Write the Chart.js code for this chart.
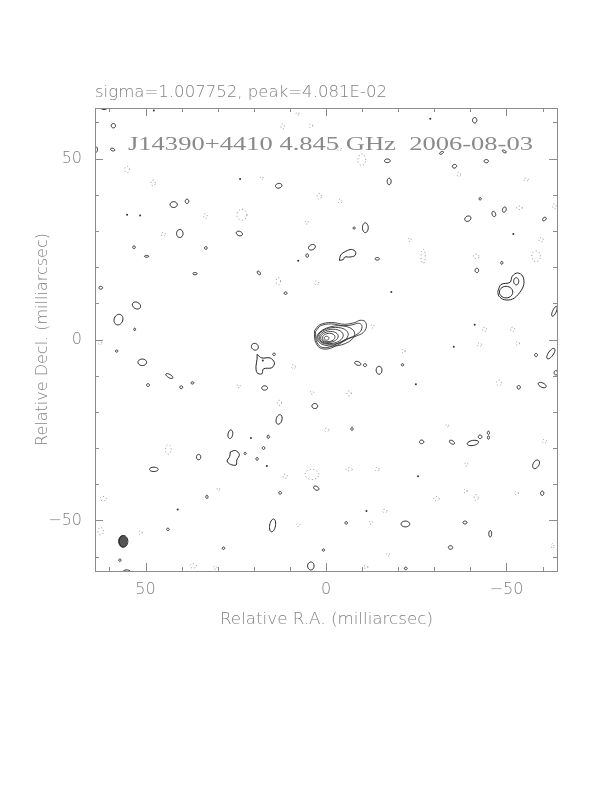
<!DOCTYPE html>
<html lang="en">
<head>
  <meta charset="UTF-8">
  <title>J14390+4410 4.845 GHz 2006-08-03</title>
  <script src="https://cdn.jsdelivr.net/npm/chart.js"></script>
  <style>
    html, body { margin: 0; padding: 0; background: #fff; }
    canvas { display: block; }
  </style>
</head>
<body>
  <canvas id="map" width="612" height="792"></canvas>

  <script>
    // axis limits (milliarcsec)
    var raMin = -64, raMax = 64;
    var decMin = -64, decMax = 64;
    var tickValues = [-60, -50, -40, -30, -20, -10, 0, 10, 20, 30, 40, 50, 60];
    var labeledTicks = [-50, 0, 50];

    var headerText = 'sigma=1.007752, peak=4.081E-02';
    var titleText = 'J14390+4410 4.845 GHz  2006-08-03';
    var xTitle = 'Relative R.A. (milliarcsec)';
    var yTitle = 'Relative Decl. (milliarcsec)';

    // positive contours: [ra, dec, semi-x, semi-y, tilt deg]
    var posBlobs = [
      [61.5, 64.5, 1.2, 0.9, 0], [58.9, 59.1, 0.6, 0.6, 30], [63.8, 52.5, 0.5, 0.8, 0],
      [59.1, 52.5, 0.6, 0.35, -20], [-17.0, 49.4, 0.8, 0.5, 0], [-32.0, 51.6, 0.6, 0.3, 30],
      [-49.4, 52.0, 0.6, 0.3, -30], [-44.4, 49.3, 0.6, 0.45, 0], [-35.6, 47.9, 0.6, 0.5, 20],
      [-41.2, 60.6, 0.6, 0.75, 0], [-17.5, 43.7, 0.55, 0.9, 0], [13.1, 42.5, 0.9, 0.65, 10],
      [42.2, 37.3, 1.0, 0.8, 0], [38.5, 38.2, 0.5, 0.6, 0], [40.5, 29.3, 0.9, 1.1, 0],
      [24.0, 29.3, 0.9, 0.6, -20], [-10.9, 30.9, 0.8, 1.35, 0], [-7.8, 30.8, 0.3, 0.3, 0],
      [53.2, 25.5, 0.35, 0.4, 0], [49.7, 23.0, 0.6, 0.25, 0], [33.3, 25.3, 0.4, 0.35, 0],
      [3.9, 25.5, 1.0, 0.7, 25], [5.2, 23.2, 0.35, 0.5, 0], [-14.2, 22.3, 0.6, 0.35, 0],
      [-39.3, 33.4, 0.9, 0.7, 30], [-46.5, 34.7, 0.5, 0.75, 20], [-49.4, 35.9, 0.5, 0.75, -20],
      [-42.7, 38.9, 0.3, 0.35, 0], [-60.5, 33.3, 0.6, 0.4, 40], [-48.7, 21.2, 0.3, 0.4, 0],
      [-41.8, 19.1, 0.5, 0.6, 0], [-63.3, 7.8, 1.5, 0.5, 65], [62.4, 14.3, 0.5, 0.4, 0],
      [52.5, 9.4, 1.2, 0.9, -30], [57.5, 5.5, 1.2, 1.5, -20], [53.0, 2.8, 0.25, 0.35, 0],
      [36.3, 18.2, 0.6, 0.3, 0], [18.6, 18.4, 0.6, 0.35, -50], [11.2, 12.8, 0.4, 0.35, 0],
      [58.0, -3.2, 0.35, 0.3, 0], [50.9, -6.3, 1.2, 0.9, 0], [43.4, -10.1, 1.1, 0.45, -30],
      [49.3, -12.6, 0.4, 0.4, 0], [40.1, -13.2, 0.4, 0.4, 0], [37.0, -12.0, 0.4, 0.3, 0],
      [19.7, -2.0, 1.0, 0.9, -40], [14.4, -4.1, 0.35, 0.35, 0], [-8.8, -6.6, 0.9, 0.5, -20],
      [-10.8, -7.1, 0.45, 0.4, 0], [-14.7, -8.5, 0.8, 1.1, 0], [-21.2, -7.0, 0.35, 0.3, 0],
      [17.0, -13.4, 0.8, 0.6, 0], [3.1, -18.4, 0.8, 0.7, 0], [13.0, -22.1, 1.35, 0.8, 75],
      [26.5, -26.2, 1.2, 0.65, 80], [16.0, -26.9, 0.3, 0.45, 0], [17.3, -30.0, 0.35, 0.4, 0],
      [19.1, -33.0, 0.35, 0.35, 0], [22.4, -31.5, 0.3, 0.3, 0], [35.3, -32.5, 0.6, 0.75, 0],
      [47.7, -35.9, 1.2, 0.6, 0], [-7.2, -24.7, 0.3, 0.45, 0], [-26.5, -28.3, 0.6, 0.5, 0],
      [-34.9, -28.4, 0.8, 0.45, -30], [-40.7, -28.6, 1.6, 0.7, 10], [-42.7, -26.9, 0.5, 0.5, 0],
      [-45.0, -25.8, 0.3, 0.45, 0], [-45.0, -27.1, 0.3, 0.45, 0], [-58.2, -34.5, 1.3, 0.8, 60],
      [-59.9, -42.5, 0.45, 0.6, 0], [-58.2, -4.3, 0.4, 0.45, 0], [-62.3, -3.9, 1.7, 0.7, 55],
      [-63.7, -9.2, 0.5, 0.6, 0], [-59.9, -12.6, 1.2, 0.6, -25], [-53.4, -13.2, 0.45, 0.5, 0],
      [-45.5, -53.7, 0.4, 0.9, 0], [-38.5, -50.6, 0.55, 0.4, 0], [-34.5, -57.5, 0.6, 0.5, 0],
      [-22.0, -51.0, 1.2, 0.8, 0], [-5.6, -50.7, 0.35, 0.35, 0], [14.8, -51.4, 0.8, 1.8, -10],
      [2.7, -41.1, 0.8, 0.5, -30], [12.7, -42.4, 0.4, 0.35, 0], [33.0, -43.5, 0.3, 0.45, 0],
      [43.8, -52.5, 0.35, 0.35, 0], [28.4, -57.7, 0.35, 0.35, 0], [0.7, -58.2, 0.35, 0.3, 0],
      [4.2, -62.6, 0.9, 1.1, 0], [-22.1, -63.3, 0.4, 0.35, 0], [55.2, -64.3, 1.1, 0.6, 0],
      [57.1, -61.0, 0.35, 0.3, 0], [56.1, -55.8, 1.2, 1.6, 0]
    ];

    // irregular positive contours, [ra, dec] vertices
    var posShapes = [
      [[-3.7, 21.9], [-4.1, 23.4], [-5.5, 24.4], [-7.1, 24.9], [-8.2, 24.2], [-8.0, 23.2],
       [-6.6, 22.8], [-5.2, 22.8], [-4.8, 22.1]],
      [[-47.6, 13.3], [-48.5, 15.2], [-51.0, 15.8], [-51.6, 17.5], [-53.1, 18.4], [-54.5, 17.5],
       [-54.8, 15.2], [-53.6, 12.9], [-51.7, 11.2], [-49.4, 11.0], [-47.9, 12.0]],
      [[19.1, -4.1], [17.8, -5.1], [15.5, -5.1], [14.3, -6.4], [15.0, -7.8], [17.3, -8.1],
       [17.8, -9.5], [19.1, -9.2], [19.4, -7.4], [19.1, -5.5]],
      [[26.5, -31.1], [25.1, -30.7], [24.0, -31.8], [24.7, -33.3], [24.9, -34.7], [26.5, -34.5],
       [27.4, -33.6], [26.7, -32.4]]
    ];
    var innerBlobs = [[-49.9, 13.1, 1.85, 1.6, 0], [-52.7, 16.1, 0.7, 1.0, 0]];

    // the central source: two outer tadpole contours, then the inner levels
    var sourceOuter = [
      [3.2, 2.4], [1.7, 4.1], [-1.6, 4.7], [-5.2, 4.2], [-8.0, 4.7], [-9.4, 5.3], [-10.8, 5.0],
      [-11.2, 3.5], [-10.3, 1.9], [-8.5, 1.0], [-6.2, 0.2], [-3.4, -1.4], [-0.6, -2.6],
      [1.7, -2.3], [3.0, -0.4]
    ];
    var sourceSecond = [
      [2.9, 2.2], [1.5, 3.8], [-1.5, 4.3], [-4.9, 3.8], [-7.5, 4.1], [-8.8, 4.5], [-9.8, 4.1],
      [-9.9, 2.9], [-9.0, 1.7], [-7.4, 0.8], [-5.4, 0.0], [-3.0, -1.2], [-0.5, -2.2],
      [1.5, -2.0], [2.7, -0.3]
    ];
    var sourceInner = [
      [-2.7, 1.0, 5.3, 2.75, 8], [-1.95, 1.0, 4.25, 2.3, 8], [-1.45, 0.85, 3.35, 1.95, 8],
      [-0.95, 0.7, 2.45, 1.5, 8], [-0.75, 0.55, 1.75, 1.15, 8], [-0.15, 0.35, 0.65, 0.55, 0]
    ];

    // negative contours (dotted)
    var negBlobs = [
      [55.1, 47.0, 0.7, 0.9], [47.9, 43.3, 0.6, 0.8], [12.0, 58.9, 0.5, 0.7], [4.2, 59.1, 0.5, 0.5],
      [7.9, 62.4, 0.4, 0.4], [-9.9, 49.7, 1.1, 1.6], [-3.7, 52.7, 0.5, 0.6], [1.9, 39.6, 0.6, 0.8],
      [-3.9, 38.2, 0.5, 0.6], [23.3, 34.5, 1.4, 1.5], [33.4, 34.1, 0.5, 0.7], [45.1, 29.1, 0.6, 0.5],
      [5.3, 32.4, 0.4, 0.5], [-26.9, 23.0, 0.6, 2.0], [-23.2, 27.6, 0.4, 0.5], [-41.6, 23.0, 0.8, 0.6],
      [-58.2, 23.0, 1.2, 1.5], [-59.6, 27.6, 0.6, 0.6], [-53.6, 36.4, 0.8, 0.5], [-36.8, 45.6, 0.5, 0.6],
      [-55.4, 44.2, 0.7, 0.4], [13.2, 16.1, 0.6, 1.0], [2.6, 15.6, 0.5, 0.6], [-43.9, 2.8, 0.6, 0.6],
      [-51.7, 2.8, 0.6, 0.6], [-63.3, 36.8, 0.5, 0.7], [-12.9, 3.7, 0.4, 0.5], [17.8, 44.7, 0.4, 0.4],
      [62.6, -0.9, 0.5, 0.6], [9.0, -7.5, 0.5, 0.6], [-21.5, -3.2, 0.4, 0.6], [-42.5, -1.4, 0.6, 0.5],
      [-53.1, -1.1, 0.5, 0.5], [-47.9, -12.0, 0.7, 0.8], [3.9, -14.7, 0.5, 0.4], [-6.4, -14.9, 0.6, 0.7],
      [12.9, -17.5, 0.6, 0.7], [-0.2, -25.0, 0.6, 0.5], [43.7, -30.4, 0.8, 1.3], [3.9, -37.3, 1.9, 1.4],
      [-6.4, -35.9, 0.9, 0.4], [-14.2, -35.9, 0.5, 0.6], [11.3, -37.8, 0.6, 0.6], [29.8, -41.4, 0.4, 0.4],
      [61.7, -44.0, 0.9, 0.6], [62.4, -53.0, 0.8, 1.0], [51.4, -53.4, 0.5, 0.5], [-30.6, -44.0, 0.8, 0.6],
      [-41.6, -43.7, 0.6, 0.8], [-52.8, -42.5, 0.5, 0.5], [-38.6, -41.9, 0.5, 0.5], [-16.3, -47.4, 0.6, 0.5],
      [-62.8, -57.1, 0.4, 0.7], [36.8, -62.6, 0.9, 0.6], [-11.0, -62.9, 0.6, 0.4], [-17.2, -59.4, 0.4, 0.4],
      [-60.5, -28.1, 0.6, 0.5], [-38.9, -34.5, 0.4, 0.5], [-33.6, -23.8, 0.4, 0.4], [30.7, -63.1, 0.5, 0.4],
      [24.2, -12.9, 0.5, 0.4], [7.7, -51.3, 0.5, 0.4], [-12.4, -50.6, 0.5, 0.4]
    ];

    // single-pixel contours
    var dots = [
      [-28.9, 61.0], [47.7, 63.3], [23.8, 44.4], [7.7, 21.8], [-18.1, 13.1], [16.4, -35.0],
      [41.1, -47.0], [-35.4, -2.0], [-24.9, -12.4], [-25.5, -37.8], [-11.2, -47.4], [20.8, -27.2],
      [-41.2, 4.1], [55.1, 34.5], [51.5, 34.3], [-51.9, 29.2], [17.5, -5.8]
    ];

    // restoring beam: [ra, dec, semi-x, semi-y]
    var beam = [56.3, -55.8, 1.15, 1.6];

    function ellipsePoints(b) {
      var ra = b[0], dec = b[1], rx = b[2], ry = b[3];
      var t = (b[4] || 0) * Math.PI / 180;
      var pts = [];
      for (var i = 0; i <= 28; i++) {
        var a = 2 * Math.PI * i / 28;
        var dx = rx * Math.cos(a), dy = ry * Math.sin(a);
        // tilt is measured on screen, R.A. grows to the left
        pts.push({
          x: ra - (dx * Math.cos(t) - dy * Math.sin(t)),
          y: dec + dx * Math.sin(t) + dy * Math.cos(t)
        });
      }
      return pts;
    }

    function closed(list) {
      var pts = list.map(function(p) { return { x: p[0], y: p[1] }; });
      pts.push({ x: list[0][0], y: list[0][1] });
      return pts;
    }

    function contour(pts, color, dash) {
      return {
        type: 'scatter',
        data: pts,
        showLine: true,
        borderColor: color,
        borderWidth: 1,
        borderDash: dash || [],
        pointRadius: 0,
        tension: 0.35,
        clip: 0
      };
    }

    var datasets = [];
    posBlobs.forEach(function(b) { datasets.push(contour(ellipsePoints(b), '#222')); });
    innerBlobs.forEach(function(b) { datasets.push(contour(ellipsePoints(b), '#222')); });
    posShapes.forEach(function(s) { datasets.push(contour(closed(s), '#222')); });
    negBlobs.forEach(function(b) { datasets.push(contour(ellipsePoints(b), '#8a8a8a', [1, 2.5])); });

    [sourceOuter, sourceSecond].forEach(function(s) {
      var ds = contour(closed(s), '#333');
      ds.borderWidth = 0.9;
      datasets.push(ds);
    });
    sourceInner.forEach(function(b) {
      var ds = contour(ellipsePoints(b), '#333');
      ds.borderWidth = 0.9;
      datasets.push(ds);
    });

    var beamDs = contour(ellipsePoints(beam), '#444');
    beamDs.fill = 'shape';
    beamDs.backgroundColor = '#555';
    datasets.push(beamDs);

    datasets.push({
      type: 'scatter',
      data: dots.map(function(d) { return { x: d[0], y: d[1] }; }),
      pointRadius: 1,
      pointBorderWidth: 0,
      pointBackgroundColor: '#333',
      clip: 0
    });

    var grey = '#808080';
    var tickFont = { family: 'DejaVu Sans', size: 16, weight: '200' };

    function tickLabel(v) {
      if (labeledTicks.indexOf(v) < 0) return '';
      return v < 0 ? '\u2212' + Math.abs(v) : String(v);
    }

    function setTicks(scale) {
      scale.ticks = tickValues.map(function(v) { return { value: v }; });
    }

    // draw text stretched to the width it has in the reference
    function fitText(ctx, text, x, y, w, font, align) {
      ctx.save();
      ctx.font = font;
      var m = ctx.measureText(text).width;
      var k = w / m;
      ctx.translate(x, y);
      ctx.scale(k, 1);
      ctx.textAlign = align || 'left';
      ctx.fillText(text, 0, 0);
      ctx.restore();
    }

    var framePlugin = {
      id: 'frame',
      afterDraw: function(chart) {
        var ctx = chart.ctx, a = chart.chartArea;
        var xs = chart.scales.x, ys = chart.scales.y;
        ctx.save();
        ctx.strokeStyle = '#8c8c8c';
        ctx.lineWidth = 1;
        ctx.strokeRect(Math.round(a.left) + 0.5, Math.round(a.top) + 0.5,
          Math.round(a.right - a.left), Math.round(a.bottom - a.top));
        ctx.beginPath();
        tickValues.forEach(function(v) {
          var len = labeledTicks.indexOf(v) >= 0 ? 8 : 4;
          var px = Math.round(xs.getPixelForValue(v)) + 0.5;
          ctx.moveTo(px, a.bottom); ctx.lineTo(px, a.bottom - len);
          ctx.moveTo(px, a.top); ctx.lineTo(px, a.top + len);
          var py = Math.round(ys.getPixelForValue(v)) + 0.5;
          ctx.moveTo(a.left, py); ctx.lineTo(a.left + len, py);
          ctx.moveTo(a.right, py); ctx.lineTo(a.right - len, py);
        });
        ctx.stroke();

        ctx.fillStyle = grey;
        ctx.textBaseline = 'alphabetic';
        fitText(ctx, headerText, 95, 97, 292, '200 15px "DejaVu Sans"');
        ctx.fillStyle = '#8a8a8a';
        fitText(ctx, titleText, 128, 150, 405, '19px "Liberation Serif"');
        ctx.fillStyle = grey;
        fitText(ctx, xTitle, 220, 624, 213, '200 16px "DejaVu Sans"');
        ctx.save();
        ctx.translate(47, 446);
        ctx.rotate(-Math.PI / 2);
        fitText(ctx, yTitle, 0, 0, 213, '200 16px "DejaVu Sans"');
        ctx.restore();
        ctx.restore();
      }
    };

    new Chart(document.getElementById('map').getContext('2d'), {
      type: 'scatter',
      data: { datasets: datasets },
      options: {
        responsive: false,
        animation: false,
        events: [],
        layout: { padding: { left: 0, right: 55, top: 108, bottom: 0 } },
        plugins: { legend: { display: false }, tooltip: { enabled: false } },
        scales: {
          x: {
            type: 'linear', min: raMin, max: raMax, reverse: true,
            grid: { display: false, drawTicks: false }, border: { display: false },
            afterBuildTicks: setTicks,
            afterFit: function(s) { s.height = 221; },
            ticks: { autoSkip: false, maxRotation: 0, padding: 9, color: grey, font: tickFont,
              callback: tickLabel }
          },
          y: {
            type: 'linear', min: decMin, max: decMax,
            grid: { display: false, drawTicks: false }, border: { display: false },
            afterBuildTicks: setTicks,
            afterFit: function(s) { s.width = 95; },
            ticks: { autoSkip: false, padding: 13, color: grey, font: tickFont,
              callback: tickLabel }
          }
        }
      },
      plugins: [framePlugin]
    });
  </script>
</body>
</html>
